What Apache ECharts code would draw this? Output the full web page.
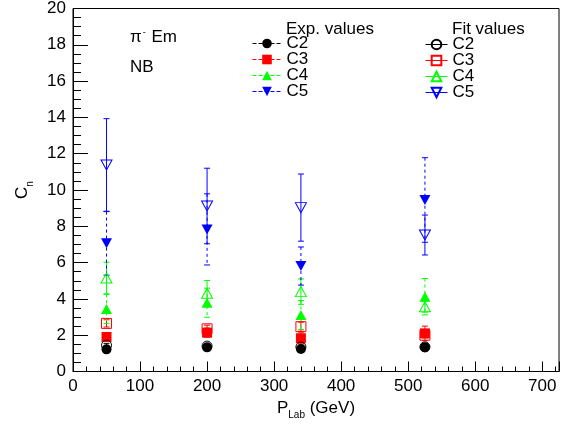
<!DOCTYPE html>
<html><head><meta charset="utf-8">
<script src="https://cdn.jsdelivr.net/npm/echarts@6/dist/echarts.min.js"></script>
<style>html,body{margin:0;padding:0;background:#fff}#c{width:574px;height:431px}</style>
</head><body><div id="c"></div>
<script>
// ---- data ----
const pLab = [50, 200, 340, 525];
const expC2 = [1.22, 1.33, 1.24, 1.33];
const expC2Err = [0.1, 0.1, 0.1, 0.1];
const expC3 = [1.9, 2.14, 1.83, 2.1];
const expC3Err = [0.25, 0.25, 0.3, 0.4];
const expC4 = [3.45, 3.79, 3.11, 4.12];
const expC4Err = [0.8, 0.8, 0.8, 1.0];
const expC5 = [7.06, 7.83, 5.81, 9.45];
const expC5Err = [1.75, 1.96, 1.05, 2.33];
const fitC2 = [1.45, 1.4, 1.35, 1.36];
const fitC2Err = [0.1, 0.1, 0.1, 0.1];
const fitC3 = [2.65, 2.35, 2.47, 2.0];
const fitC3Err = [0.2, 0.2, 0.25, 0.15];
const fitC4 = [5.15, 4.31, 4.4, 3.57];
const fitC4Err = [0.87, 0.7, 0.7, 0.3];
const fitC5 = [11.38, 9.12, 9.03, 7.52];
const fitC5Err = [2.55, 2.08, 1.85, 1.1];
const seriesNames = ['C2', 'C3', 'C4', 'C5'];
const xAxisRange = [0, 725];
const xTickStep = 100;
const yAxisRange = [0, 20];
const yTickStep = 2;

// ---- styling ----
const FONT = 'Liberation Sans, Arial, Helvetica, sans-serif';
const colors = ['#000000', '#ff0000', '#00ff00', '#0000ff'];
const downTri = 'path://M0,0L10,0L5,9Z';
const filledSymbols = ['circle', 'rect', 'triangle', downTri];
const symSizes = [[10, 10], [10, 10], [11, 10], [11, 10]];

const expVals = [expC2, expC3, expC4, expC5];
const expErrs = [expC2Err, expC3Err, expC4Err, expC5Err];
const fitVals = [fitC2, fitC3, fitC4, fitC5];
const fitErrs = [fitC2Err, fitC3Err, fitC4Err, fitC5Err];

function errRender(dashed, color) {
  return function (params, api) {
    const x = api.value(0), y = api.value(1), e = api.value(2);
    const t = api.coord([x, y + e]);
    const b = api.coord([x, y - e]);
    const cw = 3;
    return {
      type: 'group',
      children: [
        { type: 'line', shape: { x1: t[0], y1: t[1], x2: b[0], y2: b[1] },
          style: { stroke: color, lineWidth: 1, lineDash: dashed ? [3, 3] : null } },
        { type: 'line', shape: { x1: t[0] - cw, y1: t[1], x2: t[0] + cw, y2: t[1] },
          style: { stroke: color, lineWidth: 1 } },
        { type: 'line', shape: { x1: b[0] - cw, y1: b[1], x2: b[0] + cw, y2: b[1] },
          style: { stroke: color, lineWidth: 1 } }
      ]
    };
  };
}

const series = [];
for (let k = 0; k < 4; k++) {
  series.push({
    type: 'custom', name: 'expErr' + k, silent: true, z: 2,
    renderItem: errRender(true, colors[k]),
    encode: { x: 0, y: 1 },
    data: pLab.map((x, i) => [x, expVals[k][i], expErrs[k][i]])
  });
  series.push({
    type: 'custom', name: 'fitErr' + k, silent: true, z: 2,
    renderItem: errRender(false, colors[k]),
    encode: { x: 0, y: 1 },
    data: pLab.map((x, i) => [x, fitVals[k][i], fitErrs[k][i]])
  });
}
for (let k = 0; k < 4; k++) {
  series.push({
    type: 'line', name: 'exp' + seriesNames[k], z: 3,
    symbol: filledSymbols[k], symbolSize: symSizes[k], showSymbol: true,
    lineStyle: { color: colors[k], opacity: 0, width: 1, type: 'dashed' },
    itemStyle: { color: colors[k] },
    emphasis: { disabled: true },
    data: pLab.map((x, i) => [x, expVals[k][i]])
  });
}
for (let k = 0; k < 4; k++) {
  series.push({
    type: 'line', name: 'fit' + seriesNames[k], z: 4,
    symbol: filledSymbols[k], symbolSize: symSizes[k], showSymbol: true,
    lineStyle: { color: colors[k], opacity: 0, width: 1, type: 'solid' },
    itemStyle: { color: 'rgba(0,0,0,0)', borderColor: colors[k], borderWidth: 1 },
    emphasis: { disabled: true },
    data: pLab.map((x, i) => [x, fitVals[k][i]])
  });
}

const txt = { fontFamily: FONT, fontSize: 17, color: '#000', fontWeight: 'normal' };

const chart = echarts.init(document.getElementById('c'), null, { renderer: 'canvas' });
chart.setOption({
  animation: false,
  backgroundColor: '#fff',
  textStyle: { fontFamily: FONT },
  grid: { left: 73, right: 15, top: 8.5, bottom: 59.5, show: true,
          borderColor: '#000', borderWidth: 1, backgroundColor: 'transparent' },
  title: [
    { text: '{a|π}{s|-}{a| Em}', left: 130, top: 28, padding: 0,
      textStyle: { ...txt, rich: { a: { ...txt, lineHeight: 19 }, s: { ...txt, fontSize: 9, verticalAlign: 'top', lineHeight: 19, padding: [0, 1, 0, 1] } } } },
    { text: 'NB', left: 130, top: 59, padding: 0, textStyle: txt },
    { text: 'Exp. values', left: 286, top: 21, padding: 0, textStyle: txt },
    { text: 'Fit values', left: 452, top: 21, padding: 0, textStyle: txt }
  ],
  legend: [
    { data: seriesNames.map(n => ({ name: 'exp' + n })), orient: 'vertical',
      left: 252, top: 35, itemWidth: 29, itemHeight: 12, itemGap: -1, padding: 0,
      selectedMode: false,
      formatter: n => n.replace('exp', ''),
      lineStyle: { opacity: 1, width: 1, type: 'dashed' },
      textStyle: { ...txt, lineHeight: 16 } },
    { data: seriesNames.map(n => ({ name: 'fit' + n })), orient: 'vertical',
      left: 425, top: 36, itemWidth: 22, itemHeight: 12, itemGap: -1, padding: 0,
      selectedMode: false,
      formatter: n => n.replace('fit', ''),
      lineStyle: { opacity: 1, width: 1, type: 'solid' },
      textStyle: { ...txt, lineHeight: 16 } }
  ],
  xAxis: {
    type: 'value', min: xAxisRange[0], max: xAxisRange[1], interval: xTickStep,
    name: '{a|P}{b|Lab}{a| (GeV)}', nameLocation: 'middle', nameGap: 27,
    nameTextStyle: { ...txt, rich: { a: { ...txt, lineHeight: 20 }, b: { ...txt, fontSize: 10, verticalAlign: 'bottom', lineHeight: 20, padding: [0, 0, -2, 0] } } },
    axisLine: { show: true, onZero: false, lineStyle: { color: '#000', width: 1 } },
    axisTick: { show: true, inside: true, length: 10, lineStyle: { color: '#000' } },
    minorTick: { show: true, splitNumber: 5, length: 5, lineStyle: { color: '#000' } },
    splitLine: { show: false },
    axisLabel: { ...txt, margin: 6, showMaxLabel: false }
  },
  yAxis: {
    type: 'value', min: yAxisRange[0], max: yAxisRange[1], interval: yTickStep,
    name: '{a|C}{b|n}', nameLocation: 'middle', nameGap: 42, nameRotate: 90,
    nameTextStyle: { ...txt, rich: { a: { ...txt, lineHeight: 18 }, b: { ...txt, fontSize: 10, verticalAlign: 'bottom', lineHeight: 18, padding: [0, 0, -4, 0] } } },
    axisLine: { show: true, onZero: false, lineStyle: { color: '#000', width: 1 } },
    axisTick: { show: true, inside: true, length: 15, lineStyle: { color: '#000' } },
    minorTick: { show: true, splitNumber: 4, length: 8, lineStyle: { color: '#000' } },
    splitLine: { show: false },
    axisLabel: { ...txt, margin: 7 }
  },
  series: series
});
</script>
</body></html>
